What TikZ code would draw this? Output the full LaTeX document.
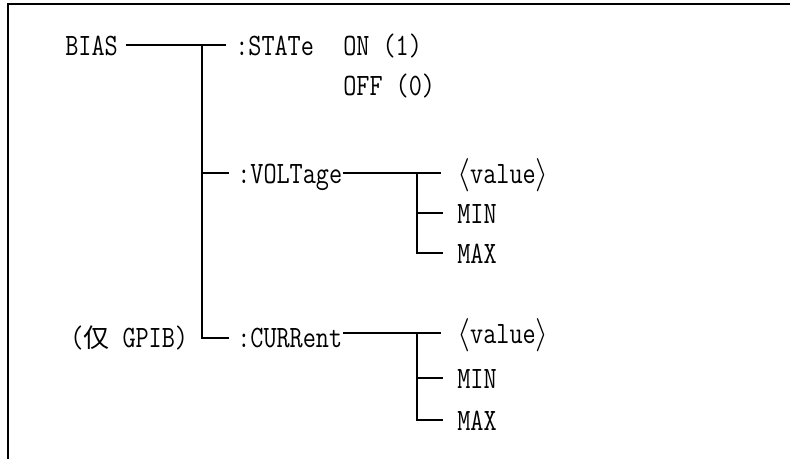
\documentclass[tikz,border=0pt]{standalone}
\usepackage{fontspec}
\setmonofont[FakeStretch=0.82]{Latin Modern Mono}
\newfontfamily\cjk{Noto Sans CJK SC}
\begin{document}
\begin{tikzpicture}[x=0.75pt,y=-0.75pt,
  txt/.style={anchor=base west,inner sep=0pt,font=\ttfamily\fontsize{23.3pt}{28pt}\selectfont},
  tree/.style={line width=1.5pt,line cap=rect},
  border/.style={line width=1.8pt}]
\useasboundingbox (0,0) rectangle (790,459);
% border (open at right and bottom)
\coordinate (bTR) at (790,4);
\coordinate (bTL) at (8,4);
\coordinate (bBL) at (8,459);
\draw[border] (bTR) -- (bTL) -- (bBL);

% texts
\node[txt] (bias) at (65,56) {BIAS};
\node[txt] (state) at (235,56) {:STATe};
\node[txt] (on) at (343,56) {ON (1)};
\node[txt] (off) at (343,96) {OFF (0)};
\node[txt] (volt) at (237,184) {:VOLTage};
\node[txt] (vval) at (457,184) {$\langle$value$\rangle$};
\node[txt] (vmin) at (457,224) {MIN};
\node[txt] (vmax) at (457,264) {MAX};
\node[txt] (gpib) at (70,348) {({\cjk\fontsize{19.5pt}{24pt}\selectfont 仅} GPIB)};
\node[txt] (cur) at (237,348) {:CURRent};
\node[txt] (cval) at (457,344) {$\langle$value$\rangle$};
\node[txt] (cmin) at (457,389) {MIN};
\node[txt] (cmax) at (457,431) {MAX};

% junction coordinates
\coordinate (biasR) at (127,45);
\coordinate (stateL) at (225,45);
\coordinate (j0) at (202,45);
\coordinate (jV) at (202,173);
\coordinate (voltL) at (228,173);
\coordinate (jC) at (202,338);
\coordinate (curL) at (228,338);
\coordinate (vvalL) at (440,173);
\coordinate (voltR) at ([xshift=1.5pt]volt.east |- vvalL);
\coordinate (jv0) at (417,173);
\coordinate (jv1) at (417,213);
\coordinate (jv2) at (417,253);
\coordinate (vminL) at (442,213);
\coordinate (vmaxL) at (442,253);
\coordinate (cvalL) at (440,333);
\coordinate (curR) at ([xshift=1.5pt]cur.east |- cvalL);
\coordinate (jc0) at (417,333);
\coordinate (jc1) at (417,378);
\coordinate (jc2) at (417,420);
\coordinate (cminL) at (442,378);
\coordinate (cmaxL) at (442,420);

% tree
\draw[tree] (biasR) -- (stateL);
\draw[tree] (j0) -- (jC) -- (curL);
\draw[tree] (jV) -- (voltL);
\draw[tree] (voltR) -- (vvalL);
\draw[tree] (jv0) -- (jv2) -- (vmaxL);
\draw[tree] (jv1) -- (vminL);
\draw[tree] (curR) -- (cvalL);
\draw[tree] (jc0) -- (jc2) -- (cmaxL);
\draw[tree] (jc1) -- (cminL);
\end{tikzpicture}
\end{document}
